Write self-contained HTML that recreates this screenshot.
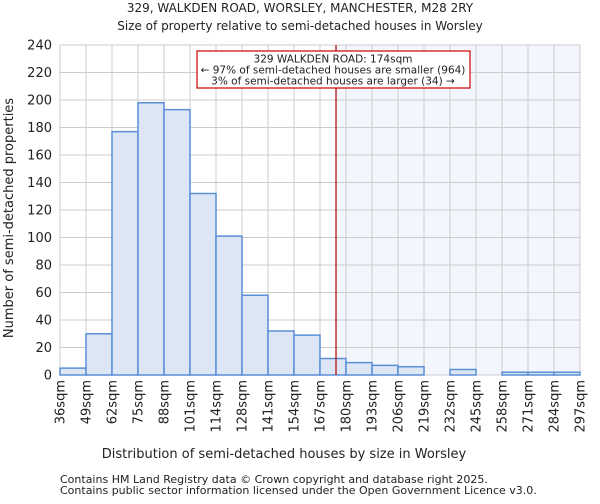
<!DOCTYPE html>
<html><head><meta charset="utf-8"><style>
body{margin:0;background:#fff;font-family:"DejaVu Sans","Liberation Sans",sans-serif}
svg text{font-family:"DejaVu Sans","Liberation Sans",sans-serif;fill:#222}
</style></head><body>
<svg id="chart" width="600" height="500">
<text x="300" y="12" font-size="12" text-anchor="middle">329, WALKDEN ROAD, WORSLEY, MANCHESTER, M28 2RY</text>
<text x="300" y="30" font-size="12" text-anchor="middle">Size of property relative to semi-detached houses in Worsley</text>
<g id="plot"></g>
<text x="284" y="458" font-size="13" text-anchor="middle">Distribution of semi-detached houses by size in Worsley</text>
<text transform="translate(13,218) rotate(-90)" font-size="13" text-anchor="middle">Number of semi-detached properties</text>
<text x="60" y="483" font-size="11">Contains HM Land Registry data © Crown copyright and database right 2025.</text>
<text x="60" y="494" font-size="11">Contains public sector information licensed under the Open Government Licence v3.0.</text>
</svg>
<script>
const binLabels=["36sqm","49sqm","62sqm","75sqm","88sqm","101sqm","114sqm","128sqm","141sqm","154sqm","167sqm","180sqm","193sqm","206sqm","219sqm","232sqm","245sqm","258sqm","271sqm","284sqm","297sqm"];
const counts=[5,30,177,198,193,132,101,58,32,29,12,9,7,6,0,4,0,2,2,2];
const yTicks=[0,20,40,60,80,100,120,140,160,180,200,220,240];
const propertySize=174;
const binStart=36, binStep=13;
const X0=60,X1=580,Y0=375,Y1=45,yMax=240;
const bw=(X1-X0)/counts.length;
const xs=v=>X0+(v-binStart)/binStep*bw;
const ys=v=>Y0-(v/yMax)*(Y0-Y1);
const NS="http://www.w3.org/2000/svg";
const g=document.getElementById('plot');
function mk(t,a){const e=document.createElementNS(NS,t);for(const k in a)e.setAttribute(k,a[k]);g.appendChild(e);return e;}
const lx=xs(propertySize);
let sh=mk('rect',{x:lx,y:Y1,width:X1-lx,height:Y0-Y1,fill:'#f3f6fd'});


yTicks.forEach(t=>{
 let l=mk('line',{x1:X0,x2:X1,y1:ys(t),y2:ys(t),stroke:'#cccccc','stroke-width':1});
 
 
 let tx=mk('text',{x:X0-8,y:ys(t)+4.5,'font-size':13,'text-anchor':'end'});tx.textContent=t;
 
 
});
binLabels.forEach((lb,i)=>{
 const x=X0+i*bw;
 let l=mk('line',{x1:x,x2:x,y1:Y1,y2:Y0,stroke:'#cccccc','stroke-width':1});
 
 
 let tx=mk('text',{transform:`translate(${x+4.5},380) rotate(-90)`,'font-size':13,'text-anchor':'end'});tx.textContent=lb;
 
 
});
counts.forEach((c,i)=>{
 if(c<=0)return;
 let r=mk('rect',{x:X0+i*bw,y:ys(c),width:bw,height:Y0-ys(c),fill:'#dce6f5',stroke:'#5a8fd6','stroke-width':1.5});
 
 
});
let ln=mk('line',{x1:lx,x2:lx,y1:Y1,y2:Y0,stroke:'#b00000','stroke-width':1.2});


let bx=mk('rect',{x:197,y:51,width:273,height:37,fill:'#fff',stroke:'#cc0000','stroke-width':1.2});


["329 WALKDEN ROAD: 174sqm","← 97% of semi-detached houses are smaller (964)","3% of semi-detached houses are larger (34) →"].forEach((s,i)=>{
 let t=mk('text',{x:333,y:62.5+i*11,'font-size':10.5,'text-anchor':'middle'});t.textContent=s;
 
 
});
</script>
</body></html>
